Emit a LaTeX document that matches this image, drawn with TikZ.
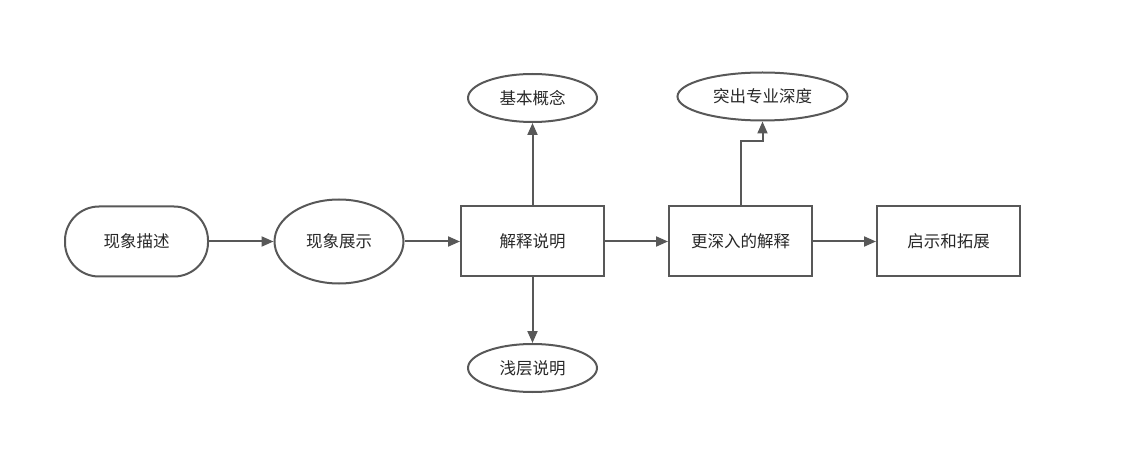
\documentclass[tikz,border=0pt]{standalone}
\usepackage{fontspec}
\setmainfont{Noto Sans CJK SC}
\usepackage{tikz}
\usetikzlibrary{shapes.geometric, arrows.meta, positioning}
\definecolor{flowgray}{RGB}{88, 88, 88}
\definecolor{flowtext}{RGB}{40, 40, 40}

\begin{document}
\begin{tikzpicture}[
  x=1pt, y=-1pt,
  base/.style={draw=flowgray, line width=2pt, text=flowtext, font=\fontsize{16.5}{19}\selectfont, inner sep=0pt},
  stadium/.style={base, rectangle, rounded corners=34pt, minimum width=143pt, minimum height=70pt},
  step box/.style={base, rectangle, minimum width=143pt, minimum height=70pt},
  oval/.style={base, ellipse, minimum width=#1, minimum height=48pt},
  arr/.style={-{Triangle[length=12pt, width=10pt]}, line width=2pt, color=flowgray}
]
\useasboundingbox (0,0) rectangle (1141,449);

% Main line
\node[stadium] (describe) at (136.5, 241.5) {现象描述};
\node[base, ellipse, minimum width=129pt, minimum height=84pt] (show) at (339, 241.5) {现象展示};
\node[step box] (explain) at (532.5, 241.5) {解释说明};
\node[step box] (deeper) at (740.5, 241.5) {更深入的解释};
\node[step box] (extend) at (948.5, 241.5) {启示和拓展};

% Branches
\node[oval=129pt] (concept) at (532.5, 98) {基本概念};
\node[oval=129pt] (shallow) at (532.5, 368) {浅层说明};
\node[oval=170pt] (depth) at (762.5, 96.5) {突出专业深度};

% Arrows
\draw[arr] (describe) -- (show);
\draw[arr] (show) -- (explain);
\draw[arr] (explain) -- (deeper);
\draw[arr] (deeper) -- (extend);
\draw[arr] (explain) -- (concept);
\draw[arr] (explain) -- (shallow);
\draw[arr] (deeper.north) -- ++(0,-64) -| (depth.south);

\end{tikzpicture}
\end{document}
